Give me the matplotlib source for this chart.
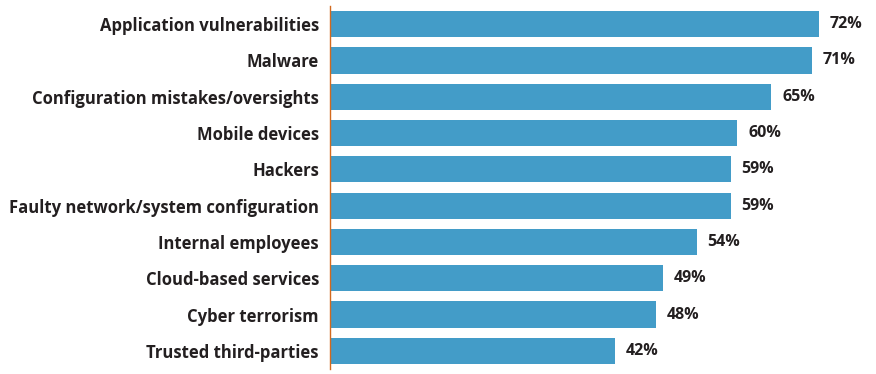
import matplotlib.pyplot as plt

# data
categories = ["Application vulnerabilities", "Malware", "Configuration mistakes/oversights",
              "Mobile devices", "Hackers", "Faulty network/system configuration",
              "Internal employees", "Cloud-based services", "Cyber terrorism",
              "Trusted third-parties"]
values = [72, 71, 65, 60, 59, 59, 54, 49, 48, 42]

bar_color = "#439CC8"
text_color = "#231F20"

plt.rcParams['font.family'] = ['Open Sans', 'DejaVu Sans']

fig = plt.figure(figsize=(8.76, 3.74), dpi=100)
ax = fig.add_axes([330 / 876, 5 / 374, 546 / 876, 363 / 374])

ypos = list(range(len(categories)))
ax.barh(ypos, values, height=0.72, color=bar_color)

for y, v in zip(ypos, values):
    ax.text(v + 1.6, y, f"{v}%", va="center", ha="left", fontsize=11.5,
            fontweight="bold", color=text_color)

ax.set_yticks(ypos)
ax.set_yticklabels(categories, fontsize=12, fontweight="bold", color=text_color)
for lbl in ax.get_yticklabels():
    lbl.set_verticalalignment("center_baseline")
ax.tick_params(axis="y", length=0, pad=8)
ax.set_xticks([])
ax.set_xlim(0, 80.4)
ax.set_ylim(9.5, -0.5)

for s in ["top", "right", "bottom"]:
    ax.spines[s].set_visible(False)
ax.spines["left"].set_color("#D2691E")
ax.spines["left"].set_linewidth(1)

fig.savefig("out.png", dpi=100)
